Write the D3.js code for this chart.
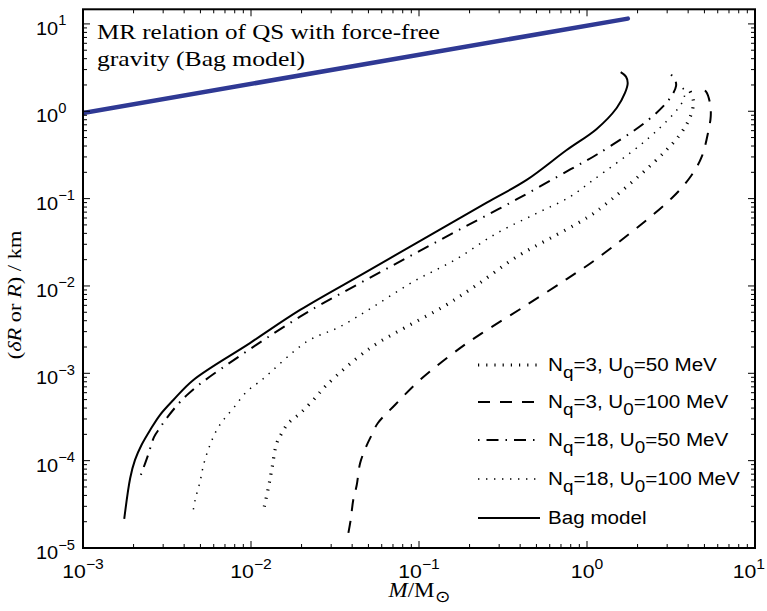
<!DOCTYPE html>
<html><head><meta charset="utf-8">
<script src="https://cdn.jsdelivr.net/npm/d3@7"></script>
<style>body{margin:0;background:#fff;} svg{display:block;}</style>
</head><body>
<script>
// ---- data ----
const xTickExps = [-3, -2, -1, 0, 1];
const yTickExps = [-5, -4, -3, -2, -1, 0, 1];
const titleLines = ["MR relation of QS with force-free", "gravity (Bag model)"];

const forceFreeM = [0.001, 1.75];
const forceFreeR = [0.955, 11.5];

const bagM = [0.00176,0.00191,0.00204,0.00223,0.00251,0.00287,0.00345,0.00454,0.00986,0.0196,0.0489,0.1216,0.253,0.4375,0.757,1.142,1.502,1.683,1.747,1.706,1.587];
const bagR = [2.15e-5,6.33e-5,1.02e-4,1.51e-4,2.24e-4,3.33e-4,4.95e-4,8.4e-4,2.22e-3,5.31e-3,0.01459,0.0401,0.090,0.1637,0.360,0.628,1.09,1.62,2.11,2.49,2.80];

const q18u50M = [0.00221,0.00244,0.00265,0.00287,0.00312,0.00373,0.00410,0.00509,0.0196,0.0426,0.0884,0.1837,0.385,0.80,1.152,2.317,3.12,3.39,3.34,3.05];
const q18u50R = [6.86e-5,1.16e-4,1.87e-4,2.37e-4,3.0e-4,4.57e-4,5.5e-4,7.82e-4,4.45e-3,0.01026,0.0220,0.0466,0.099,0.217,0.322,0.796,1.41,1.95,2.29,2.84];

const q18u100M = [0.00454,0.00465,0.00497,0.00525,0.00570,0.00625,0.00685,0.00785,0.00943,0.01159,0.02147,0.0339,0.0535,0.0925,0.1637,0.290,0.502,0.793,1.09,2.2,3.3,3.75,3.8,3.6];
const q18u100R = [2.77e-5,3.54e-5,5.74e-5,9.33e-5,1.51e-4,2.24e-4,2.92e-4,3.98e-4,6.17e-4,8.4e-4,2.30e-3,3.42e-3,5.79e-3,0.0112,0.01986,0.0401,0.0679,0.105,0.1637,0.45,0.95,1.35,1.7,2.0];

const q3u50M = [0.0120,0.01267,0.01328,0.01423,0.01524,0.01667,0.0196,0.0235,0.0282,0.0511,0.0845,0.1396,0.2207,0.382,0.6026,0.951,1.167,2.5,3.6,4.15,4.3,4.1];
const q3u50R = [2.97e-5,4.82e-5,7.82e-5,1.58e-4,2.06e-4,2.68e-4,3.48e-4,4.95e-4,7.35e-4,1.94e-3,3.42e-3,5.79e-3,0.01026,0.0216,0.0351,0.0570,0.0741,0.26,0.55,0.9,1.3,1.7];

const q3u100M = [0.0380,0.0392,0.0406,0.0426,0.0446,0.0484,0.0523,0.0568,0.0719,0.1014,0.1754,0.236,0.4217,0.757,1.152,3.19,4.20,4.82,5.27,5.45,5.40,5.11,4.92];
const q3u100R = [1.49e-5,2.09e-5,3.54e-5,5.26e-5,9.33e-5,1.44e-4,1.97e-4,2.68e-4,4.34e-4,8.4e-4,1.94e-3,2.87e-3,5.79e-3,0.0120,0.0207,0.101,0.1866,0.302,0.585,0.868,1.236,1.68,1.755];

const legendLabels = [
  ["N","q","=3, U","0","=50 MeV"],
  ["N","q","=3, U","0","=100 MeV"],
  ["N","q","=18, U","0","=50 MeV"],
  ["N","q","=18, U","0","=100 MeV"],
  ["Bag model"]
];

// ---- layout ----
const W = 767, H = 611;
const L = 83, R = 755, T = 9.3, B = 548;
const svg = d3.select("body").append("svg").attr("width", W).attr("height", H);

const x = d3.scaleLog().domain([1e-3, 10]).range([L, R]);
const y = d3.scaleLog().domain([1e-5, 14.7]).range([B, T]);

const series = [
  {M: q3u50M, Rv: q3u50R, dash: "1.2,7", w: 3.2, off: 0},
  {M: q3u100M, Rv: q3u100R, dash: "12,10", w: 2, off: 0},
  {M: q18u50M, Rv: q18u50R, dash: "12,7,1.5,7", w: 2, off: 19},
  {M: q18u100M, Rv: q18u100R, dash: "1.4,6.6", w: 1.5, off: 0},
  {M: bagM, Rv: bagR, dash: null, w: 2, off: 0}
];

svg.append("clipPath").attr("id","c").append("rect")
  .attr("x", L).attr("y", T).attr("width", R-L).attr("height", B-T);

const curve = d3.line().x(d => x(d[0])).y(d => y(d[1])).curve(d3.curveCatmullRom.alpha(0.5));

const g = svg.append("g").attr("clip-path","url(#c)");
g.append("path").datum(d3.zip(forceFreeM, forceFreeR))
  .attr("d", d3.line().x(d=>x(d[0])).y(d=>y(d[1])))
  .attr("fill","none").attr("stroke","#2f3994").attr("stroke-width",4.5).attr("stroke-linecap","round");

series.forEach(s => {
  g.append("path").datum(d3.zip(s.M, s.Rv))
    .attr("d", curve)
    .attr("fill","none").attr("stroke","#000").attr("stroke-width", s.w)
    .attr("stroke-dasharray", s.dash)
    .attr("stroke-dashoffset", s.off)
    .attr("stroke-linejoin","round");
});

// ---- axes (MATLAB style, ticks inside, all four sides) ----
const ax = svg.append("g");
const majorX = xTickExps.map(e => Math.pow(10,e));
const minorX = [];
for (let e = -3; e < 1; e++) for (let k = 2; k <= 9; k++) minorX.push(k*Math.pow(10,e));
const majorY = yTickExps.map(e => Math.pow(10,e));
const minorY = [];
for (let e = -5; e < 2; e++) for (let k = 2; k <= 9; k++) { const v = k*Math.pow(10,e); if (v <= 14.7) minorY.push(v); }

function tick(x1,y1,x2,y2){ ax.append("line").attr("x1",x1).attr("y1",y1).attr("x2",x2).attr("y2",y2).attr("stroke","#000").attr("stroke-width",1); }
majorX.forEach(v => { const px = x(v); tick(px,B,px,B-7); tick(px,T,px,T+7); });
minorX.forEach(v => { const px = x(v); tick(px,B,px,B-4); tick(px,T,px,T+4); });
majorY.forEach(v => { const py = y(v); tick(L,py,L+7,py); tick(R,py,R-7,py); });
minorY.forEach(v => { const py = y(v); tick(L,py,L+4,py); tick(R,py,R-4,py); });

ax.append("rect").attr("x",L).attr("y",T).attr("width",R-L).attr("height",B-T)
  .attr("fill","none").attr("stroke","#000").attr("stroke-width",2);

const sans = "'Liberation Sans', Arial, Helvetica, sans-serif";
const serif = "'Liberation Serif', 'Times New Roman', serif";
const SX = 1.12; // horizontal stretch of the reference's lettering

function expLabel(gsel, e) {
  const t = gsel.append("text").attr("font-family",sans).attr("font-size",19);
  t.append("tspan").text("10");
  t.append("tspan").attr("dy",-9.5).attr("font-size",14).text(e < 0 ? "\u2212" + (-e) : String(e));
  return t;
}
// x tick labels
xTickExps.forEach(e => {
  const px = x(Math.pow(10,e));
  const last = e === xTickExps[xTickExps.length-1];
  const gg = svg.append("g").attr("transform", `translate(${last ? 765 : px},578) scale(${SX},1)`);
  expLabel(gg, e).attr("text-anchor", last ? "end" : "middle");
});
// y tick labels
yTickExps.forEach(e => {
  const py = y(Math.pow(10,e));
  const gg = svg.append("g").attr("transform", `translate(36,${py + 11}) scale(1.05,1)`);
  expLabel(gg, e);
});

// axis labels
const xl = svg.append("g").attr("transform","translate(419,597) scale(1.15,1)")
  .append("text").attr("text-anchor","middle").attr("font-family",serif).attr("font-size",20);
xl.append("tspan").attr("font-style","italic").text("M");
xl.append("tspan").text("/M");
xl.append("tspan").attr("dy",5).attr("font-size",16).text("\u2299");

const yl = svg.append("g").attr("transform","translate(21,295) rotate(-90) scale(1.18,1)")
  .append("text").attr("text-anchor","middle").attr("font-family",serif).attr("font-size",19);
yl.append("tspan").text("(");
yl.append("tspan").attr("font-style","italic").text("\u03B4R");
yl.append("tspan").text(" or ");
yl.append("tspan").attr("font-style","italic").text("R");
yl.append("tspan").text(") / km");

// title
const titleW = [343, 208];
titleLines.forEach((s,i) => {
  svg.append("text").attr("x",97).attr("y",39 + i*27).attr("font-family",serif).attr("font-size",22)
    .attr("textLength", titleW[i]).attr("lengthAdjust","spacingAndGlyphs").text(s);
});

// legend
const legY = [365, 402, 440, 479, 518];
series.forEach((s,i) => {
  const ly = legY[i];
  svg.append("line").attr("x1",478).attr("x2",540).attr("y1",ly).attr("y2",ly)
    .attr("stroke","#000").attr("stroke-width",s.w).attr("stroke-dasharray",s.dash)
    .attr("stroke-dashoffset", s.off);
  const parts = legendLabels[i];
  const t = svg.append("g").attr("transform",`translate(548,${ly+6}) scale(1.11,1)`)
    .append("text").attr("font-family",sans).attr("font-size",18.6);
  parts.forEach((p,j) => {
    const ts = t.append("tspan").text(p);
    if (j % 2 === 1) ts.attr("dy",7).attr("font-size",17);
    else if (j > 0) ts.attr("dy",-7);
  });
});
</script>
</body></html>
